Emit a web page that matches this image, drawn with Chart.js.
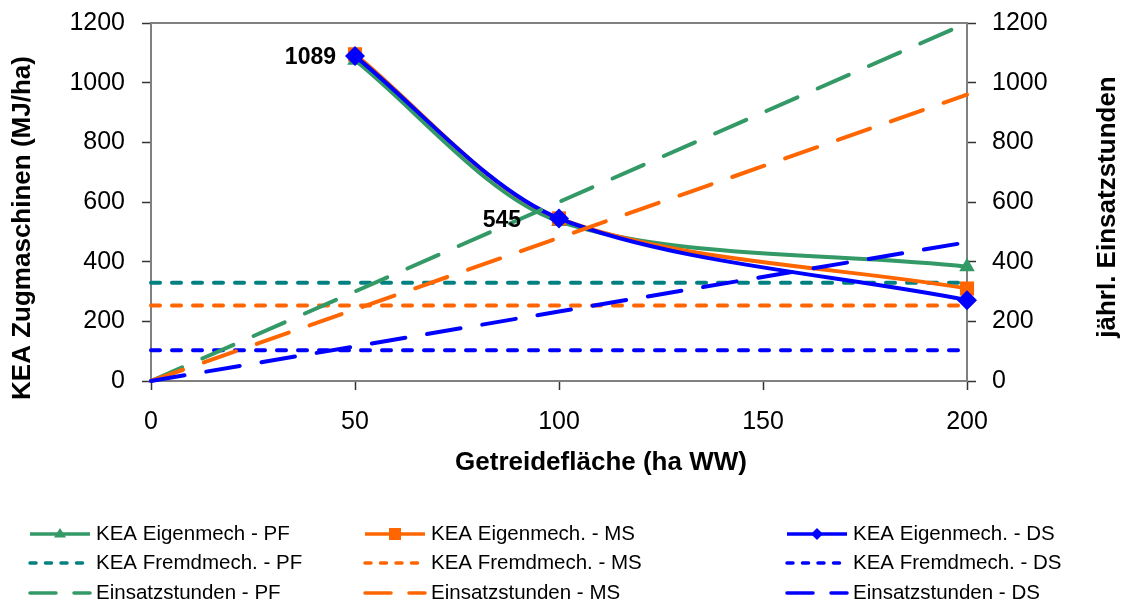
<!DOCTYPE html>
<html>
<head>
<meta charset="utf-8">
<script src="https://cdn.jsdelivr.net/npm/chart.js@4.4.1/dist/chart.umd.min.js"></script>
<style>
    html, body { margin: 0; padding: 0; background: #fff; }
    #wrap { width: 1129px; height: 607px; position: relative; }
</style>
</head>
<body>
<div id="wrap"><canvas id="myChart"></canvas></div>
<script>
// Werte
const flaecheEigen = [50, 100, 200];
const eigenPF = [1075, 535, 383];
const eigenMS = [1095, 545, 310];
const eigenDS = [1089, 545, 271];

const flaecheFremd = [0, 200];
const fremdPF = [329, 329];
const fremdMS = [253, 253];
const fremdDS = [103, 103];

const flaecheStunden = [0, 50, 100, 200];
const stundenPF = [0, 300, 600, 1200];
const stundenMS = [0, 240, 480, 960];
const stundenDS = [0, 116, 233, 465];

const xTicks = [0, 50, 100, 150, 200];
const yTicks = [0, 200, 400, 600, 800, 1000, 1200];
const beschriftetDS = [0, 1]; // Punkte von eigenDS mit Wertbeschriftung

const GRUEN = "#339966", ORANGE = "#FF6600", BLAU = "#0000FF", PETROL = "#008080";
const FONT = "'Liberation Sans', Arial, sans-serif";

function punkte(xs, ys) {
    return xs.map((x, i) => ({ x: x, y: ys[i] }));
}

function eigen(label, ys, farbe, marker, radius, col) {
    return {
        label: label, data: punkte(flaecheEigen, ys), yAxisID: "y",
        borderColor: farbe, backgroundColor: farbe, borderWidth: 4,
        tension: 0.3, pointStyle: marker, pointRadius: radius, pointHoverRadius: radius,
        pointBorderWidth: 0, clip: false, legendRow: 0, legendCol: col
    };
}
function fremd(label, ys, farbe, col) {
    return {
        label: label, data: punkte(flaecheFremd, ys), yAxisID: "y",
        borderColor: farbe, borderWidth: 4, borderDash: [9, 12], borderCapStyle: "round",
        pointRadius: 0, clip: false, legendRow: 1, legendCol: col, legendDash: [6, 9.5]
    };
}
function stunden(label, ys, farbe, col) {
    return {
        label: label, data: punkte(flaecheStunden, ys), yAxisID: "y2",
        borderColor: farbe, borderWidth: 4, borderDash: [34, 22], borderCapStyle: "round",
        pointRadius: 0, clip: false, legendRow: 2, legendCol: col, legendDash: [26, 18]
    };
}

// obere Datensätze zuerst (Chart.js zeichnet Index 0 zuletzt)
const datasets = [
    stunden("Einsatzstunden - DS", stundenDS, BLAU, 2),
    stunden("Einsatzstunden - MS", stundenMS, ORANGE, 1),
    stunden("Einsatzstunden - PF", stundenPF, GRUEN, 0),
    eigen("KEA Eigenmech. - DS", eigenDS, BLAU, "rectRot", 10, 2),
    eigen("KEA Eigenmech. - MS", eigenMS, ORANGE, "rect", 10, 1),
    eigen("KEA Eigenmech - PF", eigenPF, GRUEN, "triangle", 9, 0),
    fremd("KEA Fremdmech. - DS", fremdDS, BLAU, 2),
    fremd("KEA Fremdmech. - MS", fremdMS, ORANGE, 1),
    fremd("KEA Fremdmech. - PF", fremdPF, PETROL, 0)
];

// Rahmen der Zeichenfläche
const rahmen = {
    id: "rahmen",
    beforeDatasetsDraw(chart) {
        const a = chart.chartArea, ctx = chart.ctx;
        ctx.save();
        ctx.strokeStyle = "#808080";
        ctx.lineWidth = 2;
        ctx.strokeRect(a.left, a.top, a.right - a.left, a.bottom - a.top);
        ctx.restore();
    }
};

// Achsentitel, Wertbeschriftungen und Legende
const texte = {
    id: "texte",
    afterDraw(chart) {
        const ctx = chart.ctx;
        ctx.save();
        ctx.fillStyle = "#000";
        ctx.font = "bold 26px " + FONT;
        ctx.textAlign = "center";
        ctx.textBaseline = "middle";
        ctx.fillText("Getreidefläche (ha WW)", 601, 463);
        [["KEA Zugmaschinen (MJ/ha)", 23, 228], ["jährl. Einsatzstunden", 1108, 207]].forEach(t => {
            ctx.save();
            ctx.translate(t[1], t[2]);
            ctx.rotate(-Math.PI / 2);
            ctx.fillText(t[0], 0, 0);
            ctx.restore();
        });

        // Wertbeschriftung an der DS-Kurve
        const meta = chart.getDatasetMeta(3);
        const abstand = [19, 38];
        ctx.font = "bold 23px " + FONT;
        ctx.textAlign = "right";
        beschriftetDS.forEach((idx, k) => {
            const p = meta.data[idx];
            ctx.fillText(String(eigenDS[idx]), p.x - abstand[k], p.y + 2);
        });

        // Legende in drei Spalten
        const spalten = [30, 365, 787], zeilen = [534, 563, 593];
        ctx.font = "20.5px " + FONT;
        ctx.textAlign = "left";
        chart.data.datasets.forEach(ds => {
            const x0 = spalten[ds.legendCol], y = zeilen[ds.legendRow];
            ctx.strokeStyle = ds.borderColor;
            ctx.lineWidth = 3.5;
            ctx.lineCap = ds.borderCapStyle || "butt";
            ctx.setLineDash(ds.legendDash || []);
            ctx.beginPath();
            ctx.moveTo(x0, y);
            ctx.lineTo(x0 + 60, y);
            ctx.stroke();
            ctx.setLineDash([]);
            if (ds.pointRadius > 0) {
                const cx = x0 + 30, r = 6;
                ctx.fillStyle = ds.borderColor;
                ctx.beginPath();
                if (ds.pointStyle === "triangle") {
                    ctx.moveTo(cx, y - r);
                    ctx.lineTo(cx + r, y + r * 0.6);
                    ctx.lineTo(cx - r, y + r * 0.6);
                } else if (ds.pointStyle === "rect") {
                    ctx.rect(cx - r, y - r, 2 * r, 2 * r);
                } else {
                    ctx.moveTo(cx, y - r);
                    ctx.lineTo(cx + r, y);
                    ctx.lineTo(cx, y + r);
                    ctx.lineTo(cx - r, y);
                }
                ctx.closePath();
                ctx.fill();
            }
            ctx.fillStyle = "#000";
            ctx.fillText(ds.label, x0 + 66, y);
        });
        ctx.restore();
    }
};

const achse = {
    border: { color: "#808080", width: 2 },
    grid: { drawOnChartArea: false, tickLength: 9, tickColor: "#333", tickWidth: 1.5 },
    ticks: { font: { size: 25, family: FONT }, color: "#000", callback: v => String(v) }
};

function festeBreite(breite) {
    return s => {
        s.width = breite;
        s.paddingTop = 0;
        s.paddingBottom = 0;
    };
}

new Chart(document.getElementById("myChart"), {
    type: "line",
    data: { datasets: datasets },
    options: {
        responsive: true,
        maintainAspectRatio: false,
        animation: false,
        layout: { padding: { left: 0, right: 0, top: 23, bottom: 126 } },
        plugins: { legend: { display: false }, tooltip: { enabled: false } },
        scales: {
            x: {
                type: "linear", min: 0, max: 200,
                border: achse.border, grid: achse.grid,
                ticks: { ...achse.ticks, padding: 17, maxRotation: 0 },
                afterBuildTicks: s => { s.ticks = xTicks.map(v => ({ value: v })); },
                afterFit: s => { s.height = 100; }
            },
            y: {
                position: "left", min: 0, max: 1200,
                border: achse.border, grid: achse.grid,
                ticks: { ...achse.ticks, padding: 17 },
                afterBuildTicks: s => { s.ticks = yTicks.map(v => ({ value: v })); },
                afterFit: festeBreite(151)
            },
            y2: {
                position: "right", min: 0, max: 1200,
                border: achse.border, grid: achse.grid,
                ticks: { ...achse.ticks, padding: 16 },
                afterBuildTicks: s => { s.ticks = yTicks.map(v => ({ value: v })); },
                afterFit: festeBreite(162)
            }
        }
    },
    plugins: [rahmen, texte]
});
</script>
</body>
</html>
